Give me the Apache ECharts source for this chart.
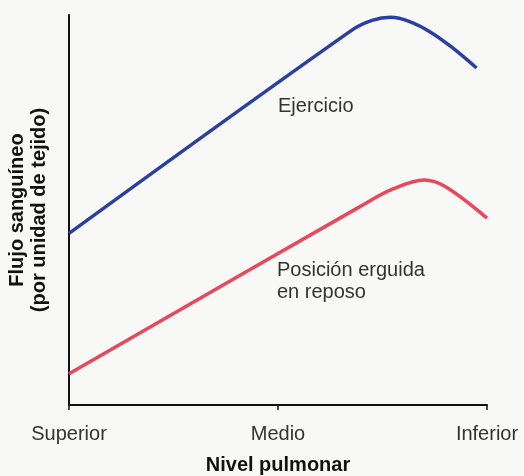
<!DOCTYPE html>
<html>
<head>
<meta charset="utf-8">
<script src="https://cdn.jsdelivr.net/npm/echarts@6/dist/echarts.min.js"></script>
<style>
  html, body { margin: 0; padding: 0; background: #f8f8f6; }
  #chart { width: 524px; height: 476px; }
</style>
</head>
<body>
<div id="chart"></div>
<script>
// x: 0 = Superior, 1 = Medio, 2 = Inferior; y: arbitrary flow units 0..100
const levelLabels = ['Superior', 'Medio', 'Inferior']
const ejercicioPts = [[0, 44], [1.35, 96], [1.45, 98.6], [1.54, 99.4], [1.63, 98.3], [1.73, 95.6], [1.83, 91.8], [1.95, 86.4]]
const reposoPts = [[0, 8], [1.39, 50.8], [1.55, 55.4], [1.70, 57.7], [1.80, 56.0], [2.0, 47.9]]

const font = "'Liberation Sans', Arial, sans-serif"
const chart = echarts.init(document.getElementById('chart'))

chart.setOption({
  backgroundColor: '#f8f8f6',
  animation: false,
  grid: { left: 69, right: 37, top: 15, bottom: 71, outerBoundsMode: 'none', containLabel: false },
  xAxis: {
    type: 'value', min: 0, max: 2, interval: 1,
    name: 'Nivel pulmonar', nameLocation: 'middle', nameGap: 50,
    nameTextStyle: { fontFamily: font, fontSize: 20, fontWeight: 'bold', color: '#111' },
    axisLine: { lineStyle: { color: '#111', width: 2 } },
    axisTick: { show: true, length: 5, lineStyle: { color: '#111', width: 1.5 } },
    axisLabel: {
      margin: 19, fontFamily: font, fontSize: 20, color: '#333',
      formatter: v => levelLabels[Math.round(v)] || ''
    },
    splitLine: { show: false }
  },
  yAxis: {
    type: 'value', min: 0, max: 100,
    name: 'Flujo sanguíneo\n(por unidad de tejido)', nameLocation: 'middle', nameGap: 19,
    nameTextStyle: { fontFamily: font, fontSize: 20, fontWeight: 'bold', color: '#111', lineHeight: 22, padding: [0, 0, 0, 0] },
    axisLine: { show: true, lineStyle: { color: '#111', width: 2 } },
    axisTick: { show: false },
    axisLabel: { show: false },
    splitLine: { show: false }
  },
  series: [
    {
      name: 'Ejercicio', type: 'line', data: ejercicioPts, smooth: 0.35,
      showSymbol: false, lineStyle: { color: '#2b3fa0', width: 3.5 }
    },
    {
      name: 'Posición erguida en reposo', type: 'line', data: reposoPts, smooth: 0.35,
      showSymbol: false, lineStyle: { color: '#e8485c', width: 3.5 }
    }
  ],
  graphic: [
    { type: 'text', left: 278, top: 96, style: { text: 'Ejercicio', font: '20px ' + font, fill: '#333' } },
    { type: 'text', left: 277, top: 259, style: { text: 'Posición erguida\nen reposo', font: '20px ' + font, fill: '#333', lineHeight: 22 } }
  ]
})
</script>
</body>
</html>
